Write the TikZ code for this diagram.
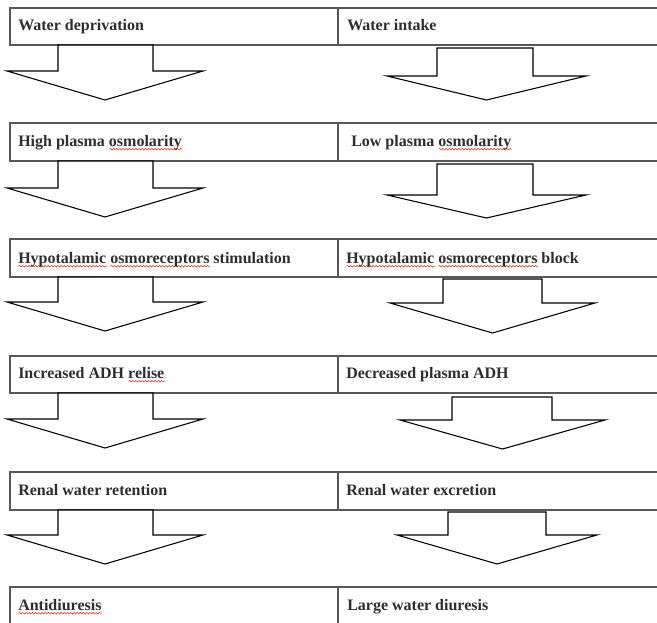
\documentclass[tikz,border=0pt]{standalone}
\usepackage{fontspec}
\setmainfont{Liberation Serif}
\usetikzlibrary{calc,decorations.pathmorphing}

\definecolor{rulegray}{HTML}{585858}
\definecolor{inkgray}{HTML}{2E2E2E}
\definecolor{spellred}{HTML}{E03A2A}

% red wavy underline for flagged words
\newdimen\spellwd
\newcommand\spell[1]{%
  \setbox0\hbox{#1}\spellwd=\wd0\relax
  \rlap{\raisebox{-3.2pt}[0pt][0pt]{\tikz[x=1pt,y=1pt]\draw[spellred,line width=0.45pt,
      decorate,decoration={snake,amplitude=0.55pt,segment length=2.4pt}]
      (0,0) -- (\spellwd,0);}}%
  \box0\relax}

% block arrow: shaft left/right, head left/right, top, shoulder, tip
\newcommand\flowarrow[7]{%
  \draw[blockarrow] (#1,#5) -- (#1,#6) -- (#3,#6) -- ({(#3+#4)/2},#7)
    -- (#4,#6) -- (#2,#6) -- (#2,#5) -- cycle;}

\begin{document}
\begin{tikzpicture}[x=0.75pt,y=-0.75pt,
  cell/.style={draw=rulegray, line width=1.1pt, rectangle, inner sep=0pt,
    outer sep=0pt, anchor=north west, minimum height=#1},
  leftcell/.style={cell=#1, minimum width=246pt},
  rightcell/.style={cell=#1, minimum width=271.5pt},
  lbl/.style={anchor=base west, inner sep=0pt, text=inkgray,
    font=\fontsize{12}{14}\selectfont\bfseries},
  blockarrow/.style={draw=black, line width=0.8pt, fill=white, line join=miter}]

\clip (0,0) rectangle (657,622);

% table rows
\node[leftcell=27.75pt]  (L1) at (10,8)   {};
\node[rightcell=27.75pt] (R1) at (338,8)  {};
\node[leftcell=28.5pt]   (L2) at (10,123) {};
\node[rightcell=28.5pt]  (R2) at (338,123) {};
\node[leftcell=28.5pt]   (L3) at (10,239) {};
\node[rightcell=28.5pt]  (R3) at (338,239) {};
\node[leftcell=27.75pt]  (L4) at (10,356) {};
\node[rightcell=27.75pt] (R4) at (338,356) {};
\node[leftcell=28.5pt]   (L5) at (10,472) {};
\node[rightcell=28.5pt]  (R5) at (338,472) {};
\node[leftcell=30pt]     (L6) at (10,587) {};
\node[rightcell=30pt]    (R6) at (338,587) {};

% row texts
\node[lbl] (tL1) at ($(L1.north west)+(8,22)$) {Water deprivation};
\node[lbl] (tR1) at ($(R1.north west)+(9,22)$) {Water intake};
\node[lbl] (tL2) at ($(L2.north west)+(8,23)$) {High plasma \spell{osmolarity}};
\node[lbl] (tR2) at ($(R2.north west)+(13,23)$) {Low plasma \spell{osmolarity}};
\node[lbl] (tL3) at ($(L3.north west)+(8,24)$) {\spell{Hypotalamic} \spell{osmoreceptors} stimulation};
\node[lbl] (tR3) at ($(R3.north west)+(8,24)$) {\spell{Hypotalamic} \spell{osmoreceptors} block};
\node[lbl] (tL4) at ($(L4.north west)+(8,22)$) {Increased ADH \spell{relise}};
\node[lbl] (tR4) at ($(R4.north west)+(8,22)$) {Decreased plasma ADH};
\node[lbl] (tL5) at ($(L5.north west)+(8,23)$) {Renal water retention};
\node[lbl] (tR5) at ($(R5.north west)+(8,23)$) {Renal water excretion};
\node[lbl] (tL6) at ($(L6.north west)+(8,23)$) {\spell{Antidiuresis}};
\node[lbl] (tR6) at ($(R6.north west)+(9,23)$) {Large water diuresis};

% arrows of the left column
\flowarrow{58}{153}{7}{203}{45}{71}{100}
\flowarrow{58}{153}{7}{203}{161}{188}{217}
\flowarrow{58}{153}{7}{203}{277}{302}{331}
\flowarrow{58}{153}{7}{203}{393}{419}{448}
\flowarrow{58}{153}{7}{203}{510}{535}{564}

% arrows of the right column
\flowarrow{437}{533}{387}{586}{48}{76}{100}
\flowarrow{437}{533}{387}{586}{164}{195}{218}
\flowarrow{443}{542}{390}{595}{279}{303}{333}
\flowarrow{452}{552}{400}{605}{397}{420}{449}
\flowarrow{448}{546}{397}{597}{512}{535}{564}
\end{tikzpicture}
\end{document}
